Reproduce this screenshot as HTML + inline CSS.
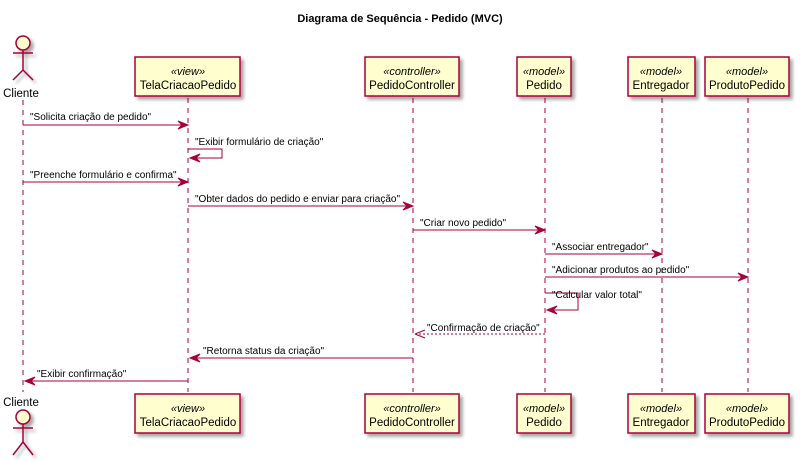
<!DOCTYPE html>
<html><head><meta charset="utf-8"><style>
html,body{margin:0;padding:0;background:#fff;width:800px;height:462px;overflow:hidden}
svg text{font-family:"Liberation Sans",sans-serif;fill:#000}
</style></head><body>
<svg width="800" height="462" viewBox="0 0 800 462" xmlns="http://www.w3.org/2000/svg">
<defs>
<filter id="sh" x="-20%" y="-20%" width="150%" height="150%"><feGaussianBlur in="SourceAlpha" stdDeviation="1.5"/><feOffset dx="3" dy="3"/><feComponentTransfer><feFuncA type="linear" slope="0.35"/></feComponentTransfer><feMerge><feMergeNode/><feMergeNode in="SourceGraphic"/></feMerge></filter>
</defs>
<text x="400" y="22" font-size="11" font-weight="bold" text-anchor="middle">Diagrama de Sequência - Pedido (MVC)</text>
<g stroke="#A80036" stroke-width="1" stroke-dasharray="5,5" fill="none">
<line x1="23" y1="100" x2="23" y2="392"/>
<line x1="188" y1="98" x2="188" y2="392"/>
<line x1="413" y1="98" x2="413" y2="392"/>
<line x1="545" y1="98" x2="545" y2="392"/>
<line x1="662" y1="98" x2="662" y2="392"/>
<line x1="748" y1="98" x2="748" y2="392"/>
</g>
<g fill="#FEFECE" stroke="#A80036" stroke-width="1.5" filter="url(#sh)">
<rect x="135" y="57" width="105" height="39"/>
<rect x="365" y="57" width="94" height="39"/>
<rect x="517" y="57" width="54" height="39"/>
<rect x="628" y="57" width="67" height="39"/>
<rect x="705" y="57" width="84" height="39"/>
<rect x="135" y="394" width="105" height="39"/>
<rect x="365" y="394" width="94" height="39"/>
<rect x="517" y="394" width="54" height="39"/>
<rect x="628" y="394" width="67" height="39"/>
<rect x="705" y="394" width="84" height="39"/>
</g>
<g font-size="11.5" text-anchor="middle">
<g font-size="11" font-style="italic">
<text x="188" y="75">«view»</text><text x="412" y="75">«controller»</text><text x="544" y="75">«model»</text><text x="661" y="75">«model»</text><text x="747" y="75">«model»</text>
<text x="188" y="412">«view»</text><text x="412" y="412">«controller»</text><text x="544" y="412">«model»</text><text x="661" y="412">«model»</text><text x="747" y="412">«model»</text>
</g>
<text x="188" y="89">TelaCriacaoPedido</text><text x="412" y="89">PedidoController</text><text x="544" y="89">Pedido</text><text x="661" y="89">Entregador</text><text x="747" y="89">ProdutoPedido</text>
<text x="188" y="426">TelaCriacaoPedido</text><text x="412" y="426">PedidoController</text><text x="544" y="426">Pedido</text><text x="661" y="426">Entregador</text><text x="747" y="426">ProdutoPedido</text>
<text x="21" y="97">Cliente</text><text x="21" y="406">Cliente</text>
</g>
<g stroke="#A80036" stroke-width="1.5" fill="#FEFECE" filter="url(#sh)">
<circle cx="23" cy="43" r="7"/>
<path d="M23 50 V70 M13 53 H33 M23 70 L13 80 M23 70 L33 80" fill="none"/>
<circle cx="23" cy="417" r="7"/>
<path d="M23 424 V442 M13 428 H33 M23 442 L13 455 M23 442 L33 455" fill="none"/>
</g>
<g stroke="#A80036" stroke-width="1" fill="none">
<line x1="23" y1="125" x2="186" y2="125"/>
<path d="M188 149 H222 V158 H190"/>
<line x1="23" y1="182" x2="186" y2="182"/>
<line x1="188" y1="206" x2="411" y2="206"/>
<line x1="413" y1="230" x2="543" y2="230"/>
<line x1="545" y1="254" x2="660" y2="254"/>
<line x1="545" y1="277" x2="746" y2="277"/>
<path d="M545 293 H578 V310 H547"/>
<line x1="545" y1="334" x2="415" y2="334" stroke-dasharray="2,2"/>
<line x1="413" y1="358" x2="190" y2="358"/>
<line x1="188" y1="381" x2="25" y2="381"/>
</g>
<g fill="#A80036" stroke="#A80036">
<path d="M188 125 l-10 -4 l4 4 l-4 4z"/>
<path d="M190 158 l10 -4 l-4 4 l4 4z"/>
<path d="M188 182 l-10 -4 l4 4 l-4 4z"/>
<path d="M413 206 l-10 -4 l4 4 l-4 4z"/>
<path d="M545 230 l-10 -4 l4 4 l-4 4z"/>
<path d="M662 254 l-10 -4 l4 4 l-4 4z"/>
<path d="M748 277 l-10 -4 l4 4 l-4 4z"/>
<path d="M547 310 l10 -4 l-4 4 l4 4z"/>
<path d="M415 334 l10 -4 M415 334 l10 4" fill="none"/>
<path d="M190 358 l10 -4 l-4 4 l4 4z"/>
<path d="M25 381 l10 -4 l-4 4 l4 4z"/>
</g>
<g font-size="10">
<text x="30" y="120">"Solicita criação de pedido"</text>
<text x="195" y="145">"Exibir formulário de criação"</text>
<text x="30" y="178">"Preenche formulário e confirma"</text>
<text x="195" y="202">"Obter dados do pedido e enviar para criação"</text>
<text x="420" y="226">"Criar novo pedido"</text>
<text x="552" y="250">"Associar entregador"</text>
<text x="552" y="273">"Adicionar produtos ao pedido"</text>
<text x="552" y="298">"Calcular valor total"</text>
<text x="427" y="331">"Confirmação de criação"</text>
<text x="203" y="354">"Retorna status da criação"</text>
<text x="37" y="377">"Exibir confirmação"</text>
</g>
</svg>
</body></html>
